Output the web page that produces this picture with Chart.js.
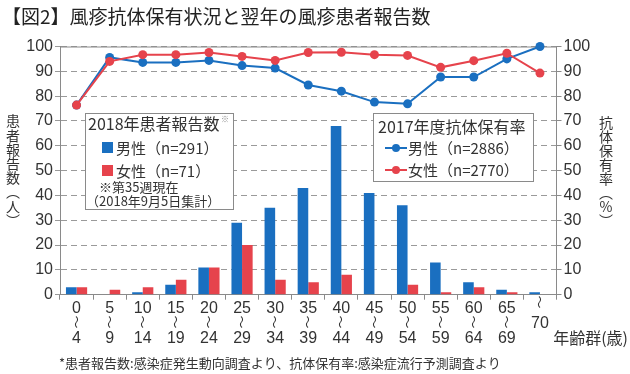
<!DOCTYPE html>
<html>
<head>
<meta charset="utf-8">
<script src="https://cdn.jsdelivr.net/npm/chart.js@4"></script>
<style>
  body { margin: 0; background: #fff; }
  canvas { display: block; }
</style>
</head>
<body>
<canvas id="c" width="630" height="374"></canvas>
<script>
// age groups (x axis), three text rows each; '〜' is drawn turned upright
const ageGroups = [
  ['0', '〜', '4'], ['5', '〜', '9'], ['10', '〜', '14'], ['15', '〜', '19'],
  ['20', '〜', '24'], ['25', '〜', '29'], ['30', '〜', '34'], ['35', '〜', '39'],
  ['40', '〜', '44'], ['45', '〜', '49'], ['50', '〜', '54'], ['55', '〜', '59'],
  ['60', '〜', '64'], ['65', '〜', '69'], ['〜', '70', ''],
]

// 2018 reported patients
const male2018 = [3, 0, 1, 4, 11, 29, 35, 43, 68, 41, 36, 13, 5, 2, 1]
const female2018 = [3, 2, 3, 6, 11, 20, 6, 5, 8, 0, 4, 1, 3, 1, 0]

// 2017 antibody rate (%)
const maleRate = [76.4, 95.6, 93.6, 93.6, 94.4, 92.3, 91.3, 84.5, 82, 77.6, 76.9, 87.7, 87.7, 95, 100]
const femaleRate = [76.4, 94, 96.7, 96.7, 97.6, 96, 94.4, 97.6, 97.7, 96.7, 96.4, 91.6, 94.3, 97.3, 89.3]

const BLUE = '#1a6fc0'
const RED = '#e6434c'
const AXIS = '#8a8a8a'
const TEXT = '#333'
const NUM = "'Liberation Sans', 'DejaVu Sans', 'Noto Sans CJK JP', sans-serif"
const JP = "'Noto Sans CJK JP', sans-serif"
const WAVE = '〜'

const verticalText = (ctx, chars, x, y0, step) => {
  chars.forEach((ch, i) => ctx.fillText(ch, x, y0 + i * step))
}

const decorations = {
  id: 'decorations',
  beforeDatasetsDraw(chart) {
    const { ctx, chartArea: a } = chart
    ctx.save()
    // solid top line
    ctx.strokeStyle = AXIS
    ctx.lineWidth = 1
    ctx.beginPath()
    ctx.moveTo(a.left, a.top + 0.5)
    ctx.lineTo(a.right, a.top + 0.5)
    ctx.stroke()

    // legend boxes
    ctx.fillStyle = '#fff'
    ctx.fillRect(85, 113, 148, 96)
    ctx.strokeRect(85.5, 113.5, 148, 96)
    ctx.fillRect(373, 113, 160, 68)
    ctx.strokeRect(373.5, 113.5, 160, 68)

    ctx.textBaseline = 'middle'
    ctx.textAlign = 'left'
    ctx.fillStyle = TEXT
    ctx.font = `16px ${JP}`
    ctx.fillText('2018年患者報告数', 88, 124)
    ctx.font = `8px ${JP}`
    ctx.fillStyle = '#888'
    ctx.fillText('※', 221, 119)

    ctx.fillStyle = BLUE
    ctx.fillRect(102, 142, 11, 11)
    ctx.fillStyle = RED
    ctx.fillRect(102, 165, 11, 11)
    ctx.fillStyle = TEXT
    ctx.font = `15px ${JP}`
    ctx.fillText('男性（n=291）', 116, 148)
    ctx.fillText('女性（n=71）', 116, 171)
    ctx.font = `13px ${JP}`
    ctx.fillText('※第35週現在', 99, 187)
    ctx.fillText('（2018年9月5日集計）', 86, 201)

    ctx.font = `16px ${JP}`
    ctx.fillText('2017年度抗体保有率', 378, 127)
    ;[[BLUE, 148, '男性（n=2886）'], [RED, 170, '女性（n=2770）']].forEach(([c, y, t]) => {
      ctx.strokeStyle = c
      ctx.lineWidth = 2
      ctx.beginPath()
      ctx.moveTo(385, y)
      ctx.lineTo(407, y)
      ctx.stroke()
      ctx.fillStyle = c
      ctx.beginPath()
      ctx.arc(396, y, 4, 0, Math.PI * 2)
      ctx.fill()
      ctx.fillStyle = TEXT
      ctx.font = `15px ${JP}`
      ctx.fillText(t, 408, y)
    })
    ctx.restore()
  },
  afterDraw(chart) {
    const { ctx } = chart
    const x = chart.scales.x
    ctx.save()
    ctx.fillStyle = '#222'
    ctx.textBaseline = 'middle'
    ctx.textAlign = 'left'
    ctx.font = `19px ${JP}`
    ctx.fillText('【図2】風疹抗体保有状況と翌年の風疹患者報告数', 2, 17)

    // upright wave dashes in the age labels
    ctx.fillStyle = TEXT
    ctx.textAlign = 'center'
    ctx.font = `13px ${JP}`
    ageGroups.forEach((rows, i) => {
      const row = rows.indexOf(WAVE)
      if (row < 0) return
      const px = x.getPixelForTick(i)
      const py = row === 0 ? 302 : 322
      ctx.save()
      ctx.translate(px, py)
      ctx.rotate(Math.PI / 2)
      ctx.fillText(WAVE, 0, 0)
      ctx.restore()
    })

    ctx.font = `14px ${JP}`
    verticalText(ctx, ['患', '者', '報', '告', '数', '︵', '人', '︶'], 13, 121, 14.2)
    verticalText(ctx, ['抗', '体', '保', '有', '率', '︵', '%', '︶'], 606, 123, 14)

    ctx.textAlign = 'right'
    ctx.font = `16px ${JP}`
    ctx.fillText('年齢群(歳)', 628, 338)

    ctx.textAlign = 'left'
    ctx.font = `13px ${JP}`
    ctx.fillText('*患者報告数:感染症発生動向調査より、抗体保有率:感染症流行予測調査より', 59, 363)
    ctx.restore()
  },
}

const tickFont = { family: NUM, size: 16 }

new Chart(document.getElementById('c'), {
  data: {
    labels: ageGroups,
    datasets: [
      {
        type: 'line', label: '女性', data: femaleRate, yAxisID: 'yr', order: 0,
        borderColor: RED, backgroundColor: RED, borderWidth: 2,
        pointRadius: 4.5, pointBorderWidth: 0, clip: false,
      },
      {
        type: 'line', label: '男性', data: maleRate, yAxisID: 'yr', order: 1,
        borderColor: BLUE, backgroundColor: BLUE, borderWidth: 2,
        pointRadius: 4.5, pointBorderWidth: 0, clip: false,
      },
      {
        type: 'bar', label: '男性', data: male2018, yAxisID: 'y', order: 2,
        backgroundColor: BLUE, categoryPercentage: 0.64, barPercentage: 1,
      },
      {
        type: 'bar', label: '女性', data: female2018, yAxisID: 'y', order: 2,
        backgroundColor: RED, categoryPercentage: 0.64, barPercentage: 1,
      },
    ],
  },
  options: {
    responsive: false,
    animation: false,
    layout: { padding: { top: 46.5, left: 0, right: 0, bottom: 0 } },
    plugins: { legend: false, tooltip: false },
    scales: {
      x: {
        offset: true,
        grid: { offset: true, drawOnChartArea: false, tickLength: 5, color: AXIS },
        border: { color: AXIS },
        ticks: {
          font: { ...tickFont, lineHeight: '15px' }, color: TEXT, padding: 1,
          maxRotation: 0, autoSkip: false,
          callback: (v, i) => ageGroups[i].map((s) => (s === WAVE ? ' ' : s)),
        },
        afterFit: (s) => { s.height = 374 - 294.7 },
      },
      y: {
        position: 'left', min: 0, max: 100,
        grid: { color: '#9a9a9a', tickLength: 5 },
        border: { color: AXIS, dash: [6, 4] },
        ticks: { stepSize: 10, font: tickFont, color: TEXT, padding: 2 },
        afterFit: (s) => { s.width = 60 },
      },
      yr: {
        position: 'right', min: 0, max: 100,
        grid: { drawOnChartArea: false, color: AXIS, tickLength: 5 },
        border: { color: AXIS },
        ticks: { stepSize: 10, font: tickFont, color: TEXT, padding: 2 },
        afterFit: (s) => { s.width = 630 - 556.5 },
      },
    },
  },
  plugins: [decorations],
})
</script>
</body>
</html>
